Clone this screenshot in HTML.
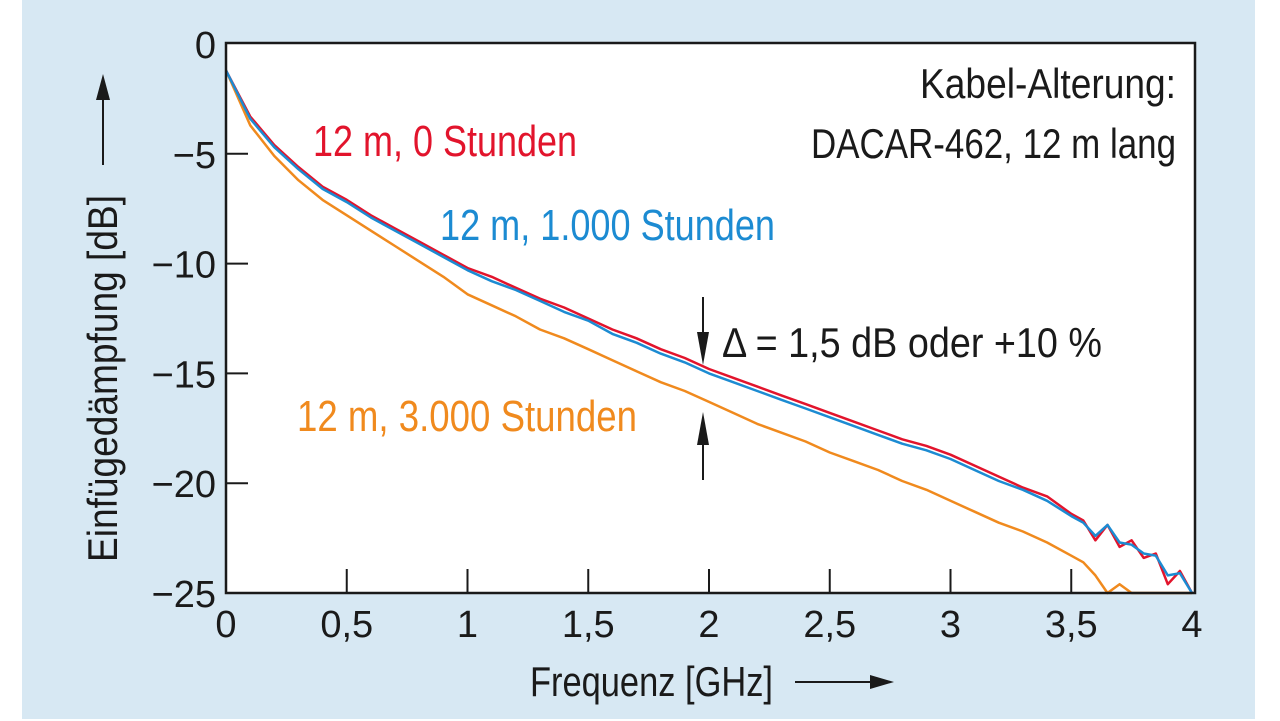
<!DOCTYPE html>
<html><head><meta charset="utf-8"><style>
html,body{margin:0;padding:0;background:#fff;}
svg{display:block;}
text{font-family:"Liberation Sans Narrow","Liberation Sans",sans-serif;}
</style></head><body>
<svg id="chart" width="1280" height="721" viewBox="0 0 1280 721">
<rect x="22" y="0" width="1233" height="719" fill="#d7e8f3"/>
<rect x="226" y="43" width="969" height="550" fill="#fff"/>
<g id="series"></g>
<g id="axes"></g>
<text x="313" y="156" font-size="44" fill="#e2142c" textLength="264" lengthAdjust="spacingAndGlyphs">12 m, 0 Stunden</text>
<text x="440" y="240" font-size="44" fill="#1c8bd2" textLength="335" lengthAdjust="spacingAndGlyphs">12 m, 1.000 Stunden</text>
<text x="297" y="431" font-size="44" fill="#f08a1e" textLength="340" lengthAdjust="spacingAndGlyphs">12 m, 3.000 Stunden</text>
<text x="920" y="98" font-size="42" fill="#1a1a1a" textLength="256" lengthAdjust="spacingAndGlyphs">Kabel-Alterung:</text>
<text x="811" y="158" font-size="42" fill="#1a1a1a" textLength="365" lengthAdjust="spacingAndGlyphs">DACAR-462, 12 m lang</text>
<text x="722" y="357" font-size="42" fill="#1a1a1a" textLength="380" lengthAdjust="spacingAndGlyphs">Δ = 1,5 dB oder +10 %</text>
<g>
<line x1="703" y1="297" x2="703" y2="345" stroke="#1a1a1a" stroke-width="2"/>
<polygon points="697,332 709,332 703,365" fill="#1a1a1a"/></g>
<g>
<line x1="703" y1="430" x2="703" y2="480" stroke="#1a1a1a" stroke-width="2"/>
<polygon points="697,445 709,445 703,412" fill="#1a1a1a"/></g>
<text x="530" y="696" font-size="42" fill="#1a1a1a" textLength="243" lengthAdjust="spacingAndGlyphs">Frequenz [GHz]</text>
<g>
<line x1="795" y1="682" x2="875" y2="682" stroke="#1a1a1a" stroke-width="2"/>
<polygon points="870,675 870,689 894,682" fill="#1a1a1a"/></g>
<text transform="translate(117,562) rotate(-90)" font-size="42" fill="#1a1a1a" textLength="367" lengthAdjust="spacingAndGlyphs">Einfügedämpfung [dB]</text>
<g>
<line x1="103" y1="165" x2="103" y2="95" stroke="#1a1a1a" stroke-width="2"/>
<polygon points="96,100 110,100 103,74" fill="#1a1a1a"/></g>
</svg>
<script>
const freqs = [0,0.1,0.2,0.3,0.4,0.5,0.6,0.7,0.8,0.9,1.0,1.1,1.2,1.3,1.4,1.5,1.6,1.7,1.8,1.9,2.0,2.1,2.2,2.3,2.4,2.5,2.6,2.7,2.8,2.9,3.0,3.1,3.2,3.3,3.4,3.5,3.55,3.6,3.65,3.7,3.75,3.8,3.85,3.9,3.95,4.0];
const red0h = [-1.2,-3.3,-4.6,-5.6,-6.5,-7.1,-7.8,-8.4,-9.0,-9.6,-10.2,-10.6,-11.1,-11.6,-12.0,-12.5,-13.0,-13.4,-13.9,-14.3,-14.8,-15.2,-15.6,-16.0,-16.4,-16.8,-17.2,-17.6,-18.0,-18.3,-18.7,-19.2,-19.7,-20.2,-20.6,-21.4,-21.7,-22.6,-21.9,-22.9,-22.6,-23.4,-23.2,-24.6,-24.0,-25.0];
const blue1000h = [-1.2,-3.4,-4.7,-5.7,-6.6,-7.2,-7.9,-8.5,-9.1,-9.7,-10.3,-10.8,-11.2,-11.7,-12.2,-12.6,-13.2,-13.6,-14.1,-14.5,-15.0,-15.4,-15.8,-16.2,-16.6,-17.0,-17.4,-17.8,-18.2,-18.5,-18.9,-19.4,-19.9,-20.3,-20.8,-21.5,-21.8,-22.4,-21.9,-22.7,-22.8,-23.2,-23.3,-24.2,-24.1,-25.0];
const orange3000h = [-1.2,-3.7,-5.1,-6.2,-7.1,-7.8,-8.5,-9.2,-9.9,-10.6,-11.4,-11.9,-12.4,-13.0,-13.4,-13.9,-14.4,-14.9,-15.4,-15.8,-16.3,-16.8,-17.3,-17.7,-18.1,-18.6,-19.0,-19.4,-19.9,-20.3,-20.8,-21.3,-21.8,-22.2,-22.7,-23.3,-23.6,-24.2,-25.0,-24.6,-25.0,-25.0,-25.0,-25.0,-25.0,-25.0];
const xTicks = [0,0.5,1,1.5,2,2.5,3,3.5,4];
const xTickLabels = ["0","0,5","1","1,5","2","2,5","3","3,5","4"];
const yTicks = [0,-5,-10,-15,-20,-25];
const yTickLabels = ["0","\u22125","\u221210","\u221215","\u221220","\u221225"];

const X0=226, X1=1192, Y0=44, Y1=593;
const xs = f => X0 + f/4*(X1-X0);
const ys = v => Y0 + (-v)/25*(Y1-Y0);
const NS="http://www.w3.org/2000/svg";
const sg=document.getElementById('series'), ag=document.getElementById('axes');

function line(vals,color,name){
  const p=document.createElementNS(NS,'polyline');
  p.setAttribute('points',freqs.map((f,i)=>xs(f).toFixed(1)+','+ys(Math.max(vals[i],-25)).toFixed(1)).join(' '));
  p.setAttribute('fill','none');p.setAttribute('stroke',color);p.setAttribute('stroke-width','2.5');
  p.setAttribute('stroke-linejoin','round');
  
  
  sg.appendChild(p);
}
line(orange3000h,'#f08a1e','series-3000h');
line(red0h,'#e2142c','series-0h');
line(blue1000h,'#1c8bd2','series-1000h');

const frame=document.createElementNS(NS,'path');
frame.setAttribute('d','M226,43 H1195 V593 H226 Z');
frame.setAttribute('fill','none');frame.setAttribute('stroke','#1a1a1a');frame.setAttribute('stroke-width','2.5');


ag.appendChild(frame);

xTicks.forEach((t,i)=>{
  const x=xs(t);
  if(i>0 && i<xTicks.length-1){
    const l=document.createElementNS(NS,'line');
    l.setAttribute('x1',x);l.setAttribute('x2',x);l.setAttribute('y1',569);l.setAttribute('y2',593);
    l.setAttribute('stroke','#1a1a1a');l.setAttribute('stroke-width','2');
    
    
    ag.appendChild(l);
  }
  const tx=document.createElementNS(NS,'text');
  tx.setAttribute('x',x);tx.setAttribute('y',637);tx.setAttribute('font-size','38');
  tx.setAttribute('text-anchor','middle');tx.setAttribute('fill','#1a1a1a');
  tx.textContent=xTickLabels[i];
  
  
  ag.appendChild(tx);
});
yTicks.forEach((t,i)=>{
  const y=ys(t);
  if(i>0 && i<yTicks.length-1){
    const l=document.createElementNS(NS,'line');
    l.setAttribute('x1',226);l.setAttribute('x2',248);l.setAttribute('y1',y);l.setAttribute('y2',y);
    l.setAttribute('stroke','#1a1a1a');l.setAttribute('stroke-width','2');
    
    
    ag.appendChild(l);
  }
  const tx=document.createElementNS(NS,'text');
  tx.setAttribute('x',216);tx.setAttribute('y',y+14);tx.setAttribute('font-size','38');
  tx.setAttribute('text-anchor','end');tx.setAttribute('fill','#1a1a1a');
  tx.textContent=yTickLabels[i];
  
  
  ag.appendChild(tx);
});
</script>
</body></html>
